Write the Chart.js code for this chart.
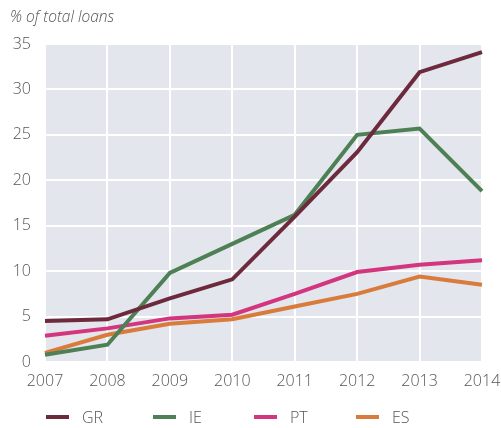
<!DOCTYPE html>
<html>
<head>
<meta charset="utf-8">
<script src="https://cdn.jsdelivr.net/npm/chart.js@4/dist/chart.umd.min.js"></script>
<style>
  html, body { margin: 0; padding: 0; background: #fff; }
  #wrap { position: relative; width: 501px; height: 428px; }
  #unit {
    position: absolute; left: 10px; top: 5px;
    font: italic 300 15.5px "Open Sans", sans-serif; color: #555;
  }
  #legend { position: absolute; left: 0; top: 405px; width: 501px; height: 24px; }
  .item { position: absolute; top: 0; height: 24px; display: flex; align-items: center;
    font: 300 16px "Open Sans", sans-serif; color: #555; }
  .swatch { width: 23px; height: 4px; margin-right: 13px; }
</style>
</head>
<body>
<div id="wrap">
  <canvas id="chart" width="501" height="428"></canvas>
  <div id="unit">% of total loans</div>
  <div id="legend"></div>
</div>
<script>
const years = ['2007', '2008', '2009', '2010', '2011', '2012', '2013', '2014'];
const yTicks = [0, 5, 10, 15, 20, 25, 30, 35];

const grValues = [4.5, 4.7, 7.0, 9.1, 16.0, 23.1, 31.9, 34.1];
const ieValues = [0.8, 1.9, 9.8, 13.0, 16.2, 25.0, 25.7, 18.8];
const ptValues = [2.9, 3.7, 4.8, 5.2, 7.5, 9.9, 10.7, 11.2];
const esValues = [1.0, 3.0, 4.2, 4.7, 6.1, 7.5, 9.4, 8.5];

const seriesNames = ['GR', 'IE', 'PT', 'ES'];
const seriesColors = ['#6e2a3d', '#4e7f55', '#d3357f', '#d97b3b'];
const legendX = [46, 153, 254, 356];

// plot area background
const plotBg = {
    id: 'plotBg',
    beforeDraw(chart) {
        const { ctx, chartArea: a } = chart;
        ctx.save();
        ctx.fillStyle = '#e3e6ed';
        ctx.fillRect(a.left, a.top, a.right - a.left, a.bottom - a.top);
        ctx.restore();
    }
};

const ctx = document.getElementById('chart').getContext('2d');
const chart = new Chart(ctx, {
    type: 'line',
    data: {
        labels: years,
        datasets: [grValues, ieValues, ptValues, esValues].map((vals, i) => ({
            label: seriesNames[i],
            data: vals,
            borderColor: seriesColors[i],
            backgroundColor: seriesColors[i],
            borderWidth: 4,
            pointRadius: 0,
            tension: 0
        }))
    },
    options: {
        responsive: false,
        animation: false,
        layout: { padding: { top: 44, right: 0, bottom: 0, left: 0 } },
        plugins: { legend: { display: false }, tooltip: { enabled: false } },
        scales: {
            x: {
                offset: false,
                grid: { color: '#ffffff', lineWidth: 2, drawTicks: false },
                border: { display: false },
                ticks: { color: '#555', padding: 10, maxRotation: 0,
                    font: { family: 'Open Sans', size: 16, weight: 300 } },
                afterFit(scale) {
                    scale.height = 66;
                    scale.paddingLeft = 0;
                    scale.paddingRight = 19;
                }
            },
            y: {
                min: 0, max: 35,
                afterBuildTicks(scale) { scale.ticks = yTicks.map(v => ({ value: v })); },
                grid: { color: '#ffffff', lineWidth: 2, drawTicks: false },
                border: { display: false },
                ticks: { color: '#555', padding: 14,
                    font: { family: 'Open Sans', size: 16, weight: 300 } },
                afterFit(scale) { scale.width = 45; }
            }
        }
    },
    plugins: [plotBg]
});

// legend row
const legend = document.getElementById('legend');
seriesNames.forEach((name, i) => {
    const item = document.createElement('div');
    item.className = 'item';
    item.style.left = legendX[i] + 'px';
    item.innerHTML = `<span class="swatch" style="background:${seriesColors[i]}"></span>${name}`;
    legend.appendChild(item);
});
</script>
</body>
</html>
